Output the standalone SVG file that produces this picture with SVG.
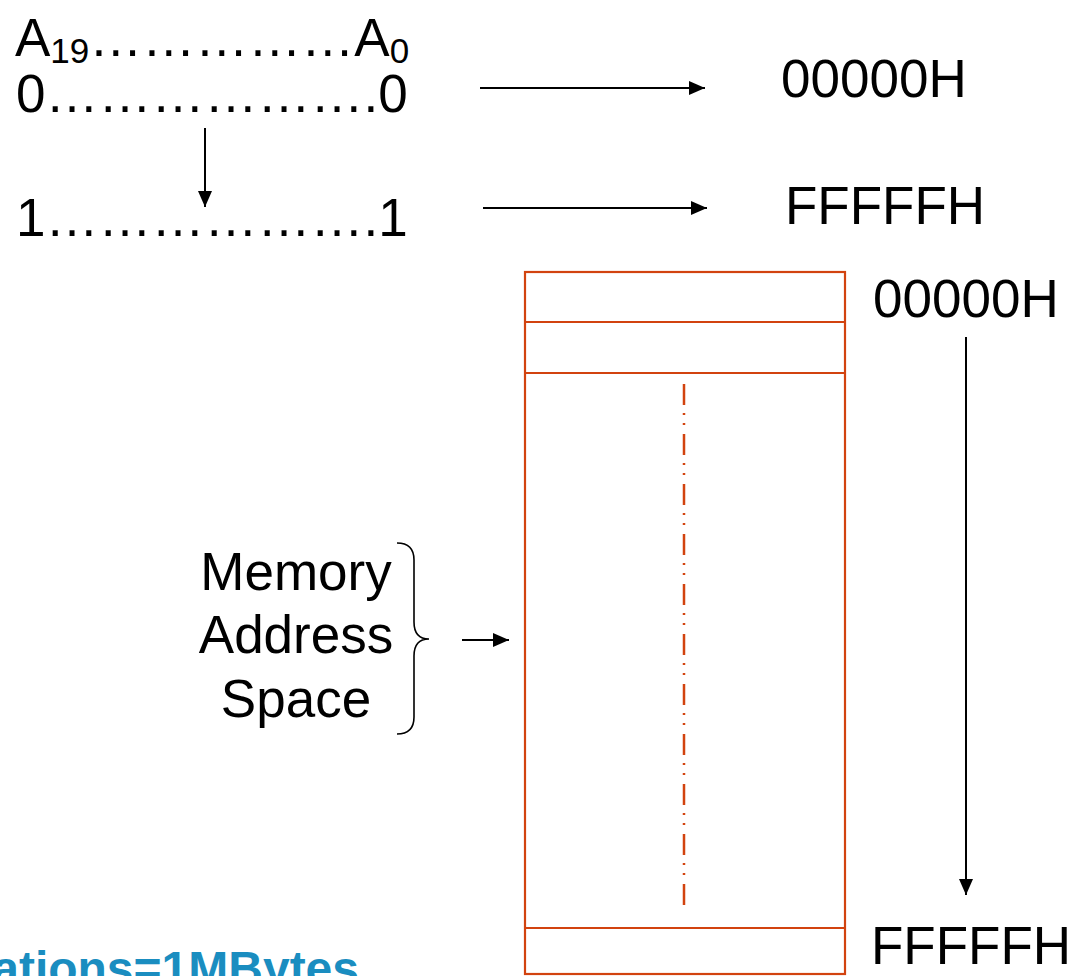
<svg xmlns="http://www.w3.org/2000/svg" width="1081" height="976" viewBox="0 0 1081 976">
<defs>
<style>
.t{font-family:"Liberation Sans",Arial,sans-serif;font-size:53px;fill:#000}
.ln{stroke:#000;stroke-width:2;fill:none}
.br{stroke:#000;stroke-width:1.6;fill:none}
.mem{fill:none;stroke:#D2430F;stroke-width:2.2}
.dd{stroke:#D2430F;stroke-width:2.5;stroke-dasharray:21 8 2 8 2 9;fill:none}
.blue{font-family:"Liberation Sans",Arial,sans-serif;font-size:48px;font-weight:bold;fill:#1A8DC0}
</style>
<marker id="ah" markerWidth="16" markerHeight="14" refX="16" refY="7" orient="auto" markerUnits="userSpaceOnUse">
<path d="M0,0 L16,7 L0,14 Z" fill="#000"/>
</marker>
</defs>
<rect width="1081" height="976" fill="#fff"/>

<g id="bits">
<text class="t" x="15" y="56">A<tspan font-size="35" dy="7">19</tspan><tspan dy="-7">&#8230;&#8230;&#8230;&#8230;&#8230;</tspan>A<tspan font-size="35" dy="7">0</tspan></text>
<text class="t" x="16" y="112">0&#8230;&#8230;&#8230;&#8230;&#8230;&#8230;.0</text>
<text class="t" x="16" y="236">1&#8230;&#8230;&#8230;&#8230;&#8230;&#8230;.1</text>
</g>

<g id="addr-top">
<text class="t" x="781" y="97">00000H</text>
<text class="t" x="785" y="224">FFFFFH</text>
</g>

<g id="memory">
<rect class="mem" x="525" y="272" width="320" height="702"/>
<line class="mem" x1="525" y1="322" x2="845" y2="322"/>
<line class="mem" x1="525" y1="373" x2="845" y2="373"/>
<line class="mem" x1="525" y1="928" x2="845" y2="928"/>
<line class="dd" x1="684" y1="384" x2="684" y2="908"/>
</g>

<g id="addr-right">
<text class="t" x="873" y="317">00000H</text>
<text class="t" x="871" y="964">FFFFFH</text>
</g>

<g id="label">
<text class="t" x="296" y="590" text-anchor="middle">Memory</text>
<text class="t" x="296" y="653" text-anchor="middle">Address</text>
<text class="t" x="296" y="717" text-anchor="middle">Space</text>
<path class="br" d="M397,543 C408,543 414,548 414,560 L414,622 C414,634 420,639 429,639 C420,639 414,644 414,656 L414,717 C414,729 408,734 397,734"/>
</g>

<g id="note">
<text class="blue" x="359" y="985" text-anchor="end">ations=1MBytes</text>
</g>

<g id="connectors">
<line class="ln" x1="480" y1="88" x2="705" y2="88" marker-end="url(#ah)"/>
<line class="ln" x1="483" y1="208" x2="707" y2="208" marker-end="url(#ah)"/>
<line class="ln" x1="205" y1="128" x2="205" y2="207" marker-end="url(#ah)"/>
<line class="ln" x1="966" y1="337" x2="966" y2="895" marker-end="url(#ah)"/>
<line class="ln" x1="462" y1="640" x2="509" y2="640" marker-end="url(#ah)"/>
</g>
</svg>
